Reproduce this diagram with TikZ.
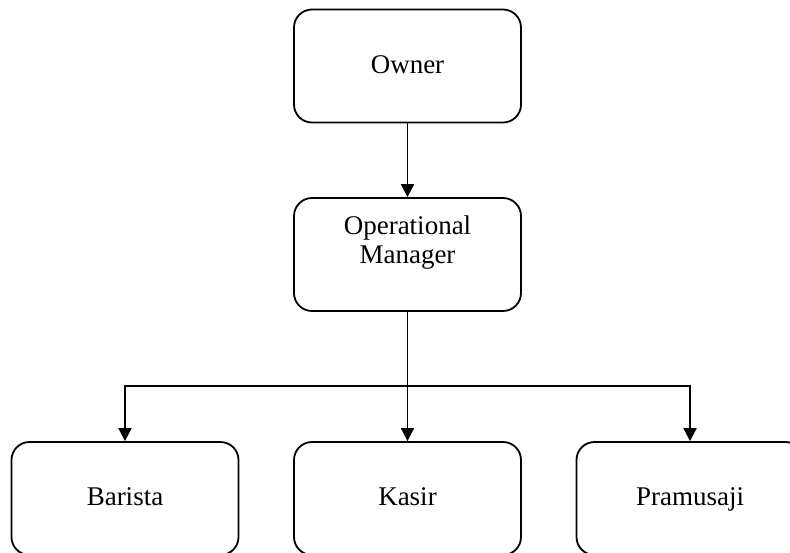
\documentclass[tikz,border=0pt]{standalone}
\usepackage{fontspec}
\setmainfont{Liberation Serif}
\usetikzlibrary{arrows.meta}
\tikzset{
  unitbox/.style={draw, line width=1.8pt, rounded corners=18pt, minimum width=227pt, minimum height=113pt, inner sep=0pt},
  unittext/.style={font=\fontsize{27}{29}\selectfont, align=center, inner sep=0pt},
  oneline/.style={unittext, text height=20pt, text depth=6pt},
  linkarrow/.style={line width=1.8pt, -{Triangle[width=13pt,length=13pt]}}
}
\begin{document}
\begin{tikzpicture}[x=1pt, y=-1pt]
\useasboundingbox (0,0) rectangle (790,552);
\clip (0,0) rectangle (790,552);

\node[unitbox, oneline](owner) at (407.5, 66) {Owner};
\node[unitbox](opm) at (407.5, 254.5) {};
\node[unittext](opmtext) at (407.5, 243) {Operational\\Manager};

\node[unitbox, oneline](barista) at (125, 498.5) {Barista};
\node[unitbox, oneline](kasir) at (407.5, 498.5) {Kasir};
\node[unitbox, oneline](pramusaji) at (690, 498.5) {Pramusaji};

\coordinate(bus) at (407.5, 386);

\draw[linkarrow] (owner) -- (opm);
\draw[linkarrow] (opm.south) -- (kasir.north);
\draw[linkarrow] (bus) -| (barista.north);
\draw[linkarrow] (bus) -| (pramusaji.north);

\end{tikzpicture}
\end{document}
